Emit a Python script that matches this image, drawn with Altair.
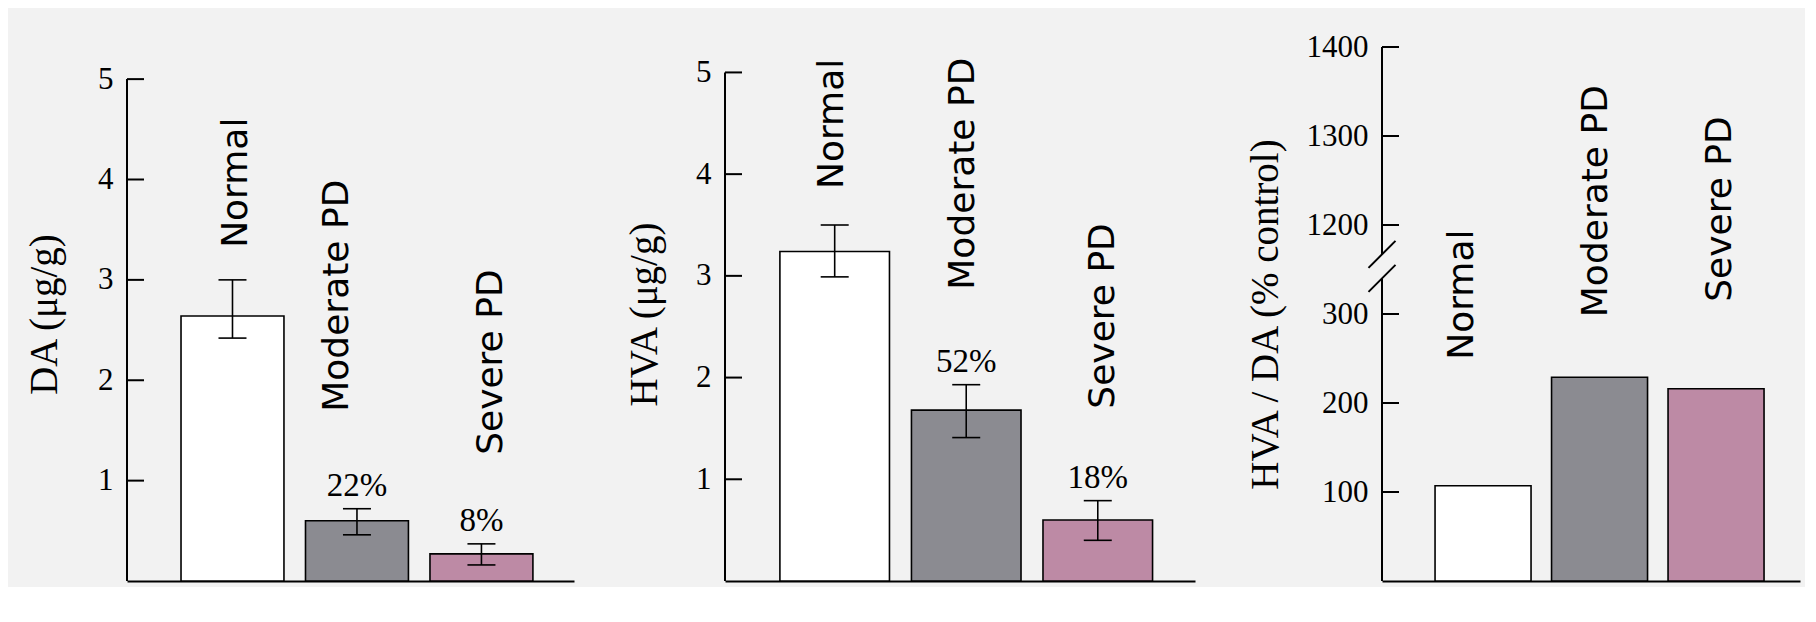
import json
import altair as alt
import pandas as pd

# ---------------- data ----------------
categories = ["Normal", "Moderate PD", "Severe PD"]
fills = ["#ffffff", "#8b8b91", "#bd8aa5"]

da_mean = [2.64, 0.60, 0.27]
da_lo = [2.42, 0.46, 0.16]
da_hi = [3.00, 0.72, 0.37]
da_pct = ["", "22%", "8%"]

hva_mean = [3.24, 1.68, 0.60]
hva_lo = [2.99, 1.41, 0.40]
hva_hi = [3.50, 1.93, 0.79]
hva_pct = ["", "52%", "18%"]

ratio_mean = [107, 229, 216]

da_ticks = [1, 2, 3, 4, 5]
da_tick_labels = ["1", "2", "3", "4", "5"]
hva_ticks = [1, 2, 3, 4, 5]
hva_tick_labels = ["1", "2", "3", "4", "5"]
# broken axis: positions 400..600 carry the labels 1200..1400
ratio_ticks = [100, 200, 300, 400, 500, 600]
ratio_tick_labels = ["100", "200", "300", "1200", "1300", "1400"]
ratio_break = [340, 367]

SERIF = "Liberation Serif"
SANS = "DejaVu Sans"
H = 534


def panel(df, top_field, ticks, tick_labels, ymax, width, title, title_x,
          band, name_offsets, axis_lo, axis_hi, errors, breaks=None):
    yscale = alt.Scale(domain=[0, ymax], nice=False, zero=True)
    label_expr = f"{json.dumps(tick_labels)}[indexof({json.dumps(ticks)}, datum.value)]"
    xenc = alt.X(
        "cat:N", sort=categories,
        scale=alt.Scale(domain=categories, paddingInner=band[0],
                        paddingOuter=band[1], align=band[2]),
        axis=alt.Axis(title=None, labels=False, ticks=False, domain=True,
                      domainColor="black", domainWidth=2, grid=False),
    )
    yaxis = alt.Axis(
        values=ticks, labelExpr=label_expr, ticks=False, tickSize=0,
        domain=False, grid=False, labelPadding=14, labelFont=SERIF,
        labelFontSize=31, labelColor="black", title=title, titleFont=SERIF,
        titleFontSize=39, titleFontWeight="normal", titleColor="black",
        titleX=title_x, titleAngle=270, titleBaseline="middle",
    )

    def Y(field):
        return alt.Y(f"{field}:Q", scale=yscale, axis=yaxis)

    base = alt.Chart(df).encode(x=xenc)
    layers = [
        base.mark_bar(stroke="black", strokeWidth=1.6).encode(
            y=Y("mean"),
            fill=alt.Fill("cat:N", scale=alt.Scale(domain=categories, range=fills),
                          legend=None),
        )
    ]
    if errors:
        layers.append(
            base.mark_rule(color="black", strokeWidth=1.6).encode(
                y=Y("lo"), y2="hi:Q")
        )
        layers.append(
            base.transform_fold(["lo", "hi"], as_=["k", "v"])
            .mark_tick(color="black", thickness=1.6, size=28, opacity=1)
            .encode(y=Y("v"))
        )
        layers.append(
            base.mark_text(font=SERIF, fontSize=33, dy=-23, baseline="middle",
                           color="black")
            .encode(y=Y("hi"), text="pct:N")
        )
    for cat, (dx, dy) in zip(categories, name_offsets):
        layers.append(
            base.transform_filter(alt.datum.cat == cat)
            .mark_text(angle=270, align="left", baseline="middle", dx=dx, dy=dy,
                       font=SANS, fontSize=36, color="black")
            .encode(y=Y(top_field), text="cat:N")
        )
    # y axis line (drawn as rules so it stops at the top tick / the break)
    layers.append(
        alt.Chart(pd.DataFrame({"a": axis_lo, "b": axis_hi}))
        .mark_rule(color="black", strokeWidth=2)
        .encode(x=alt.value(0), y=Y("a"), y2="b:Q")
    )
    # inward ticks
    layers.append(
        alt.Chart(pd.DataFrame({"t": ticks}))
        .mark_rule(color="black", strokeWidth=2)
        .encode(y=Y("t"), x=alt.value(0), x2=alt.value(17))
    )
    if breaks:
        layers.append(
            alt.Chart(pd.DataFrame({"b": breaks}))
            .mark_point(shape="M-1,1L1,-1", size=729, filled=False,
                        stroke="black", strokeWidth=2, opacity=1)
            .encode(x=alt.value(0), y=Y("b"))
        )
    return alt.layer(*layers).properties(width=width, height=H)


df_da = pd.DataFrame({"cat": categories, "mean": da_mean, "lo": da_lo,
                      "hi": da_hi, "pct": da_pct})
df_hva = pd.DataFrame({"cat": categories, "mean": hva_mean, "lo": hva_lo,
                       "hi": hva_hi, "pct": hva_pct})
df_ratio = pd.DataFrame({"cat": categories, "mean": ratio_mean})

p1 = panel(df_da, "hi", da_ticks, da_tick_labels, 5.32, 447, "DA (μg/g)", -83,
           (0.173, 0.382, 0.568), [(32, 4), (97, -20), (89, 10)],
           [0], [5], True)
p2 = panel(df_hva, "hi", hva_ticks, hva_tick_labels, 5.25, 470, "HVA (μg/g)", -81,
           (0.167, 0.370, 0.564), [(36, -3), (95, -3), (92, 5)],
           [0], [5], True)
p3 = panel(df_ratio, "mean", ratio_ticks, ratio_tick_labels, 600, 418,
           "HVA / DA (% control)", -117,
           (0.176, 0.382, 0.596), [(126, -21), (60, -4), (87, 4)],
           [0, ratio_break[1]], [ratio_break[0], 600], False, breaks=ratio_break)

chart = (
    alt.hconcat(p1, p2, p3, spacing=51)
    .properties(padding={"left": 17, "top": 23, "right": 5, "bottom": 5})
    .configure(background="#f2f2f2")
    .configure_view(strokeWidth=0)
)

chart.save("out.html", embed_options={"renderer": "svg", "actions": False})
